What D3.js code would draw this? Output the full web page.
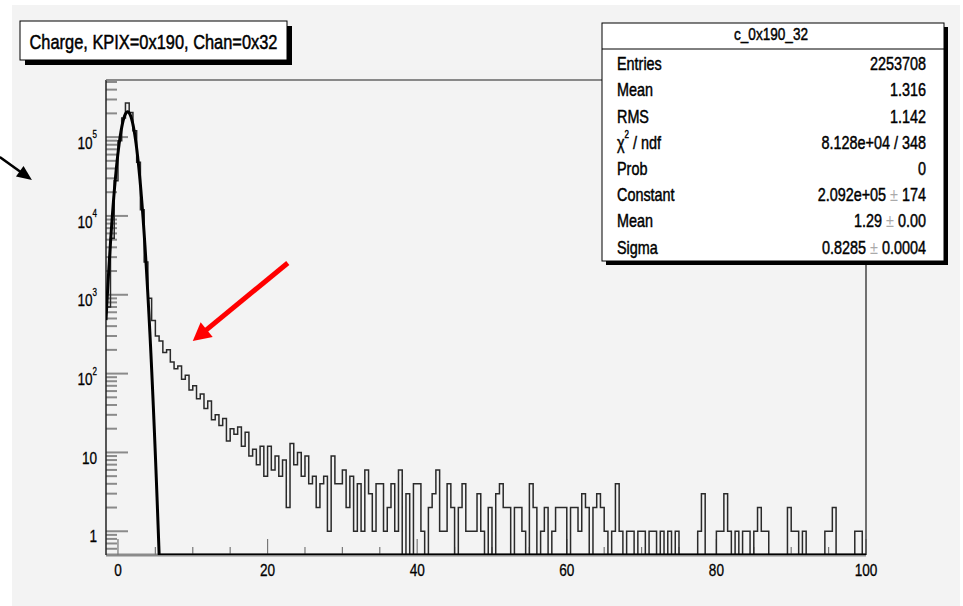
<!DOCTYPE html>
<html><head><meta charset="utf-8">
<script src="https://cdn.jsdelivr.net/npm/d3@7"></script>
<style>
html,body{margin:0;padding:0;background:#fff;}
svg{display:block;font-family:"Liberation Sans Narrow","Arial Narrow","Liberation Sans",Arial,sans-serif;}
</style></head><body>
<svg id="chart" width="963" height="606"></svg>
<script>
// ---------- data ----------
const title = "Charge, KPIX=0x190, Chan=0x32";
const statsName = "c_0x190_32";
const statLabels = ["Entries", "Mean", "RMS", "chi2", "Prob", "Constant", "Mean", "Sigma"];
const statValues = ["2253708", "1.316", "1.142", "8.128e+04 / 348", "0", "2.092e+05", "1.29", "0.8285"];
const statErrors = [null, null, null, null, null, "174", "0.00", "0.0004"];

// Gaussian fit parameters (from the stats box)
const fitConstant = 2.092e5;
const fitMean = 1.29;
const fitSigma = 0.8285;

// histogram: bins of width 0.5 starting at -1.5
const binStart = -1.5;
const binWidth = 0.5;
const counts = [
  700, 5200, 28000, 90000, 175000, 270000, 205000, 120000, 48000, 12000,
  2600, 900, 470, 300, 260, 185, 200, 140, 115, 125,
  85, 95, 62, 70, 48, 55, 36, 45, 26, 30,
  22, 27, 14, 20, 17, 21, 12, 18, 9, 11,
  7, 12, 5, 12, 6, 9, 5, 8, 2, 13,
  7, 10, 5, 9, 4, 5, 2, 4, 5, 1,
  9, 4, 4, 6, 2, 5, 1, 4, 1, 6,
  3, 1, 4, 4, 1, 2, 4, 1, 6, 0,
  3, 0, 4, 4, 1, 0, 2, 3, 6, 1,
  1, 4, 2, 0, 2, 4, 1, 1, 1, 3,
  1, 0, 2, 0, 3, 4, 2, 2, 0, 2,
  2, 1, 0, 4, 2, 0, 1, 2, 0, 1,
  2, 2, 2, 0, 2, 2, 1, 3, 2, 0,
  2, 3, 2, 1, 0, 1, 4, 1, 0, 1,
  1, 0, 1, 1, 0, 1, 1, 0, 1, 0,
  1, 0, 1, 0, 0, 0, 0, 0, 1, 3,
  0, 0, 0, 1, 1, 3, 1, 0, 1, 0,
  1, 1, 0, 1, 2, 1, 1, 0, 0, 0,
  0, 0, 2, 1, 1, 0, 1, 0, 0, 0,
  0, 0, 1, 1, 2, 0, 0, 0, 0, 0,
  1, 1, 0
];

const xTicks = [0, 20, 40, 60, 80, 100];
const xMinorStep = 5;
const yTickExps = [0, 1, 2, 3, 4, 5];

// annotation arrows, in data coordinates [x, y]
const blackArrow = [[-15.8, 56000], [-11.5, 28600]];
const redArrow = [[22.7, 2530], [10.0, 259]];

// ---------- drawing ----------
const svg = d3.select("#chart");
const frame = {left: 106, right: 866, top: 80, bottom: 555};
const CONDENSE = 0.8;

const x = d3.scaleLinear().domain([-1.6, 100]).range([frame.left, frame.right]);
const y = d3.scaleLog().domain([0.5, 5.3e5]).range([frame.bottom, frame.top]);

// condensed text helper
function ctext(parent, px, py, size, anchor) {
  return parent.append("text")
    .attr("transform", `translate(${px},${py}) scale(${CONDENSE},1)`)
    .attr("text-anchor", anchor || "start").attr("dominant-baseline", "central")
    .attr("font-size", size).attr("fill", "#000")
    .attr("stroke", "#000").attr("stroke-width", 0.45);
}

svg.append("rect").attr("x", 12).attr("y", 5).attr("width", 948).attr("height", 601).attr("fill", "#f3f3f3");

svg.append("defs").append("clipPath").attr("id", "clip").append("rect")
  .attr("x", frame.left).attr("y", frame.top - 2)
  .attr("width", frame.right - frame.left).attr("height", frame.bottom - frame.top + 2);

// y ticks (log): major + minor, drawn inside the frame
const yMin = y.domain()[0], yMax = y.domain()[1];
const yMinor = [];
for (let e = -1; e <= 6; e++) {
  for (let m = 2; m <= 9; m++) {
    const v = m * Math.pow(10, e);
    if (v >= yMin && v <= yMax) yMinor.push(v);
  }
}
const yAxis = svg.append("g");
yAxis.selectAll("line.minor").data(yMinor).join("line")
  .attr("x1", frame.left).attr("x2", frame.left + 11)
  .attr("y1", d => y(d)).attr("y2", d => y(d))
  .attr("stroke", "#8a8a8a").attr("stroke-width", 2);
yAxis.selectAll("line.major").data(yTickExps).join("line")
  .attr("x1", frame.left).attr("x2", frame.left + 22)
  .attr("y1", d => y(Math.pow(10, d))).attr("y2", d => y(Math.pow(10, d)))
  .attr("stroke", "#8a8a8a").attr("stroke-width", 2);

// y labels
yTickExps.forEach(e => {
  const t = ctext(yAxis, frame.left - 9, y(Math.pow(10, e)) + 5, 17, "end").attr("stroke-width", 0.3);
  if (e === 0) t.text("1");
  else if (e === 1) t.text("10");
  else {
    t.append("tspan").text("10");
    t.append("tspan").attr("font-size", 10).attr("dy", -7).text(String(e));
  }
});

// x ticks
const xMinor = d3.range(0, 100 + 0.001, xMinorStep).filter(v => !xTicks.includes(v));
const xAxis = svg.append("g");
xAxis.append("line").attr("x1", frame.left).attr("x2", frame.right)
  .attr("y1", frame.bottom).attr("y2", frame.bottom)
  .attr("stroke", "#8a8a8a").attr("stroke-width", 3);
xAxis.selectAll("line.minor").data(xMinor).join("line")
  .attr("x1", d => x(d)).attr("x2", d => x(d))
  .attr("y1", frame.bottom).attr("y2", frame.bottom - 8)
  .attr("stroke", "#777").attr("stroke-width", 1.2);
xAxis.selectAll("line.major").data(xTicks).join("line")
  .attr("x1", d => x(d)).attr("x2", d => x(d))
  .attr("y1", frame.bottom).attr("y2", frame.bottom - 16)
  .attr("stroke", "#777").attr("stroke-width", 1.2);
xTicks.forEach(v => {
  ctext(xAxis, x(v), frame.bottom + 15, 17, "middle").attr("stroke-width", 0.3).text(v);
});

// frame
svg.append("line").attr("x1", frame.left).attr("x2", frame.left).attr("y1", frame.top).attr("y2", frame.bottom)
  .attr("stroke", "#222").attr("stroke-width", 1.5);
svg.append("line").attr("x1", frame.left).attr("x2", frame.right).attr("y1", frame.top).attr("y2", frame.top)
  .attr("stroke", "#666").attr("stroke-width", 1.5);
svg.append("line").attr("x1", frame.right).attr("x2", frame.right).attr("y1", frame.top).attr("y2", frame.bottom)
  .attr("stroke", "#444").attr("stroke-width", 1.5);

// histogram
const plot = svg.append("g").attr("clip-path", "url(#clip)");
const hpts = counts.map((c, i) => [binStart + i * binWidth, c]);
hpts.push([binStart + counts.length * binWidth, counts[counts.length - 1]]);
const yc = c => c > 0 ? y(c) : frame.bottom;
plot.append("path")
  .attr("d", d3.line().x(d => x(d[0])).y(d => yc(d[1])).curve(d3.curveStepAfter)(hpts))
  .attr("fill", "none").attr("stroke", "#2a2a2a").attr("stroke-width", 1.5);

// fit curve (Gaussian with the fitted parameters)
const fx = d3.range(x.domain()[0], x.domain()[1] + 0.0001, 0.02);
const gauss = v => fitConstant * Math.exp(-0.5 * Math.pow((v - fitMean) / fitSigma, 2));
plot.append("path")
  .attr("d", d3.line().x(d => x(d)).y(d => { const g = gauss(d); return g > yMin ? y(g) : frame.bottom; })(fx))
  .attr("fill", "none").attr("stroke", "#000").attr("stroke-width", 3).attr("stroke-linejoin", "round");

// arrows
function arrow(pts, color, lw, headLen, headHalf) {
  const [x0, y0] = [x(pts[0][0]), y(pts[0][1])];
  const [x1, y1] = [x(pts[1][0]), y(pts[1][1])];
  const L = Math.hypot(x1 - x0, y1 - y0);
  const ux = (x1 - x0) / L, uy = (y1 - y0) / L;
  const bx = x1 - ux * headLen, by = y1 - uy * headLen;
  svg.append("line").attr("x1", x0).attr("y1", y0).attr("x2", bx + ux * 2).attr("y2", by + uy * 2)
    .attr("stroke", color).attr("stroke-width", lw);
  svg.append("polygon")
    .attr("points", [[x1, y1], [bx - uy * headHalf, by + ux * headHalf], [bx + uy * headHalf, by - ux * headHalf]].map(p => p.join(",")).join(" "))
    .attr("fill", color);
}
arrow(blackArrow, "#000", 2.5, 15, 6.5);
arrow(redArrow, "#ff0000", 5, 18, 9.5);

// title box
const tb = {x: 20, y: 21, w: 267, h: 39};
svg.append("rect").attr("x", tb.x + 5).attr("y", tb.y + 5).attr("width", tb.w).attr("height", tb.h).attr("fill", "#000");
svg.append("rect").attr("x", tb.x).attr("y", tb.y).attr("width", tb.w).attr("height", tb.h)
  .attr("fill", "#fff").attr("stroke", "#000").attr("stroke-width", 1);
svg.append("text").attr("x", tb.x + tb.w / 2).attr("y", tb.y + tb.h / 2 + 1)
  .attr("text-anchor", "middle").attr("dominant-baseline", "central")
  .attr("font-size", 21).attr("fill", "#000").attr("stroke", "#000").attr("stroke-width", 0.5)
  .attr("textLength", 248).attr("lengthAdjust", "spacingAndGlyphs")
  .text(title);

// stats box
const sb = {x: 602, y: 23, w: 342, h: 238};
svg.append("rect").attr("x", sb.x + 4).attr("y", sb.y + 4).attr("width", sb.w).attr("height", sb.h).attr("fill", "#000");
svg.append("rect").attr("x", sb.x).attr("y", sb.y).attr("width", sb.w).attr("height", sb.h)
  .attr("fill", "#fff").attr("stroke", "#000").attr("stroke-width", 1);
svg.append("line").attr("x1", sb.x).attr("x2", sb.x + sb.w).attr("y1", 49).attr("y2", 49)
  .attr("stroke", "#000").attr("stroke-width", 1);
ctext(svg, sb.x + sb.w / 2 - 2, 34, 17, "middle").text(statsName);

const rowY = i => 63.5 + i * 26.2;
statLabels.forEach((lab, i) => {
  const t = ctext(svg, 617, rowY(i), 18, "start");
  if (lab === "chi2") {
    t.append("tspan").text("χ");
    t.append("tspan").attr("font-size", 10).attr("dy", -7).text("2");
    t.append("tspan").attr("dy", 7).text(" / ndf");
  } else t.text(lab);
});
statValues.forEach((v, i) => {
  const t = ctext(svg, 926, rowY(i), 18, "end");
  t.append("tspan").text(v);
  if (statErrors[i] !== null) {
    t.append("tspan").attr("fill", "#aaa").attr("stroke", "none").text(" ± ");
    t.append("tspan").text(statErrors[i]);
  }
});
</script>
</body></html>
